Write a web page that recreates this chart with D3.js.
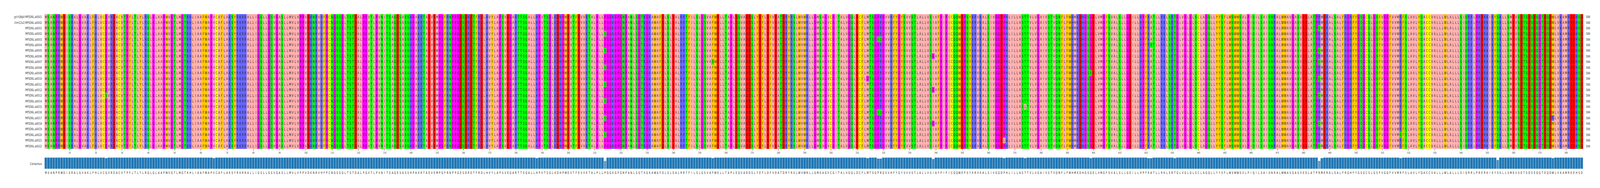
<!DOCTYPE html>
<html>
<head>
<meta charset="utf-8">
<script src="https://cdn.jsdelivr.net/npm/d3@7"></script>
<style>
  html, body { margin: 0; padding: 0; background: #fff; overflow: hidden; }
  #chart { display: block; width: 100vw; height: 100vh; }
  svg text { font-family: "DejaVu Sans", sans-serif; }
</style>
</head>
<body>
<svg id="chart" viewBox="0 0 6143 481" preserveAspectRatio="none"></svg>
<script>
// reference sequence, in pieces
const seqParts = [
  "MSANPRWDISRALGVAKLFHLVCGVREACVTPFLTLYLRQLGLAAPWVGTLMGTKHLIAAFWAPV",
  "CAFLAKSYRKRRALLIGSLLGSVGASLLMVLVPPVDKNRVHFPCNGSSGLTSTDALPGVTLPVN",
  "ITSAQESASSHPAKRTAEVEMPGFRNPPGESDRETFRDLHVYLAPSVEGARTTSQALLHPVTSGL",
  "KDHPWEVTFEVVKTALPLLPGGKGPGNPANLSGTKGKAWAFDLSLEALRRTFILSLGSVAFWELLTAP",
  "LEQVADDSLYEFLDFVDATDRYRSLWVWRLLGMSAGVCGITALVGQLDCFLMTSGPRGVVHFYGYSVVS",
  "TLALLVSIAFPIPICQQWEPSYKRVKALSIVGGDPHLILLASTTVLVGAIVSTVQNFLFWHMKDHGSG",
  "ELVMGFSVALSLLGEILLHPFKATLLRKLSRTGLVGLGLSCLAGQLLYYSFLWSWWSVLPIQILSAIS",
  "NRALWWAVGASVEDLATPRMERALSALFRGHFYGSGCSLGSFVGGFVVMRFSLAVLYQACCVALLLWL",
  "ALLLSIQRRLPRERKIKYSKLLSMEVSDTSDSEQGTEQDWLVKAMREEHSD"
];

const rowNames = ["grch38p0:MFSD6L:a0001", "chm13v2:MFSD6L:a0002"]
  .concat(d3.range(1, 23).map(i => "MFSD6L:a" + String(i).padStart(4, "0")));

// [column, row index, residue] where a sequence differs from the reference
const variants = [
  [24, 14, "S"],
  [65, 9, "A"],
  [188, 20, "R"],
  [214, 3, "S"], [214, 6, "S"], [214, 9, "S"], [214, 12, "S"], [214, 15, "S"], [214, 18, "S"], [214, 21, "S"],
  [255, 8, "S"],
  [314, 11, "G"],
  [318, 4, "S"], [318, 17, "S"],
  [319, 4, "Q"], [319, 17, "Q"],
  [339, 7, "G"], [339, 13, "G"], [339, 19, "G"],
  [366, 22, "L"],
  [374, 16, "L"],
  [399, 10, "S"],
  [421, 5, "R"], [422, 5, "S"],
  [431, 12, "N"],
  [486, 2, "Q"], [486, 6, "Q"], [486, 8, "Q"], [486, 11, "Q"], [486, 14, "Q"], [486, 19, "Q"], [486, 23, "Q"],
  [487, 15, "V"],
  [517, 21, "Q"],
  [554, 3, "N"], [554, 8, "N"], [554, 13, "N"], [554, 17, "N"], [554, 22, "N"],
  [575, 18, "R"]
];

const zappo = {
  I: "#ffafaf", L: "#ffafaf", V: "#ffafaf", A: "#ffafaf", M: "#ffafaf",
  F: "#ffc800", W: "#ffc800", Y: "#ffc800",
  K: "#6464ff", R: "#6464ff", H: "#6464ff",
  D: "#ff0000", E: "#ff0000",
  S: "#00ff00", T: "#00ff00", N: "#00ff00", Q: "#00ff00",
  P: "#ff00ff", G: "#ff00ff",
  C: "#ffff00"
};

const ref = seqParts.join("").split("");
const nCol = ref.length;
const rows = rowNames.map(() => ref.slice());
variants.forEach(([c, r, aa]) => { rows[r][c - 1] = aa; });

const svg = d3.select("#chart");

const x = d3.scaleBand().domain(d3.range(1, nCol + 1)).range([171, 6078]).padding(0);
const y = d3.scaleBand().domain(d3.range(rowNames.length)).range([36, 380.7]).padding(0);

const cells = [];
rows.forEach((r, ri) => r.forEach((aa, ci) => cells.push({ r: ri, c: ci + 1, aa })));

svg.append("g").selectAll("rect").data(cells).join("rect")
    .attr("x", d => x(d.c))
    .attr("y", d => y(d.r))
    .attr("width", x.bandwidth() + 0.3)
    .attr("height", y.bandwidth() + 0.3)
    .attr("fill", d => zappo[d.aa] || "#fff");

svg.append("g").selectAll("text").data(cells).join("text")
    .attr("x", d => x(d.c) + x.bandwidth() / 2)
    .attr("y", d => y(d.r) + y.bandwidth() / 2)
    .attr("dy", "0.36em")
    .attr("text-anchor", "middle")
    .attr("font-size", 9.5)
    .attr("fill", "#222")
    .text(d => d.aa);

// row labels and lengths
svg.append("g").selectAll("text").data(rowNames).join("text")
    .attr("x", 161)
    .attr("y", (d, i) => y(i) + y.bandwidth() / 2)
    .attr("dy", "0.36em")
    .attr("text-anchor", "end")
    .attr("font-size", 8.5)
    .attr("fill", "#333")
    .text(d => d);

svg.append("g").selectAll("text").data(rowNames).join("text")
    .attr("x", 6089)
    .attr("y", (d, i) => y(i) + y.bandwidth() / 2)
    .attr("dy", "0.36em")
    .attr("font-size", 8.5)
    .attr("fill", "#333")
    .text(() => nCol);

// position axis
const xLin = d3.scaleLinear().domain([0.5, nCol + 0.5]).range([171, 6078]);
const axis = svg.append("g")
    .attr("transform", "translate(0,381)")
    .call(d3.axisBottom(xLin).tickValues(d3.range(10, nCol + 1, 10)).tickSize(4).tickFormat(d3.format("d")));
axis.select(".domain").remove();
axis.selectAll("line").attr("stroke", "#333");
axis.selectAll("text").attr("font-size", 6.5).attr("fill", "#333").attr("font-family", "DejaVu Sans Condensed, DejaVu Sans");

// consensus
const cons = ref.map((_, ci) => {
  const counts = d3.rollup(rows, v => v.length, r => r[ci]);
  const top = d3.greatest(counts, d => d[1]);
  return { c: ci + 1, aa: top[0], frac: top[1] / rows.length };
});

const hY = d3.scaleLinear().domain([0, 1]).range([432, 403]);
const shade = d3.scaleLinear().domain([0.6, 1]).range(["#74a9cf", "#1f77b4"]).clamp(true);

svg.append("text")
    .attr("x", 161).attr("y", 419).attr("dy", "0.36em")
    .attr("text-anchor", "end").attr("font-size", 8.5).attr("fill", "#333")
    .text("Consensus");

svg.append("g").selectAll("rect").data(cons).join("rect")
    .attr("x", d => x(d.c))
    .attr("y", d => hY(d.frac))
    .attr("width", x.bandwidth())
    .attr("height", d => hY(0) - hY(d.frac))
    .attr("fill", d => shade(d.frac))
    .attr("stroke", "#d9e6f2")
    .attr("stroke-width", 0.8);

svg.append("g").selectAll("text").data(cons).join("text")
    .attr("x", d => x(d.c) + x.bandwidth() / 2)
    .attr("y", 442)
    .attr("dy", "0.36em")
    .attr("text-anchor", "middle")
    .attr("font-size", 8.5)
    .attr("fill", "#222")
    .text(d => d.aa);
</script>
</body>
</html>
